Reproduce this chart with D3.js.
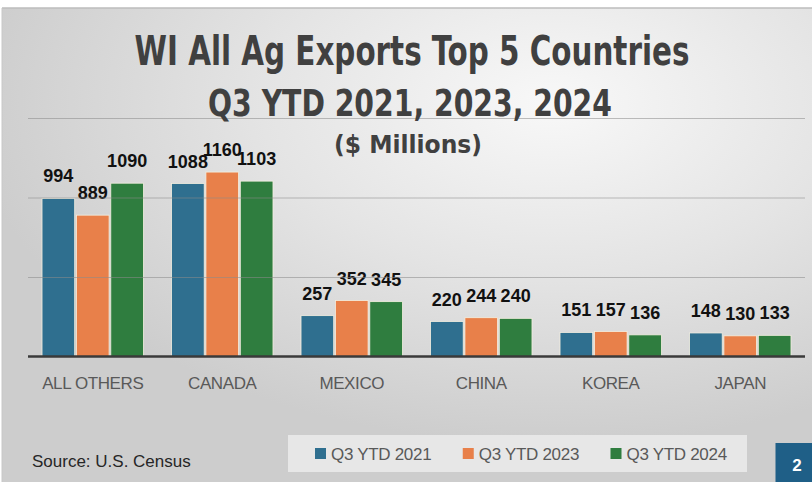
<!DOCTYPE html>
<html>
<head>
<meta charset="utf-8">
<script src="https://cdn.jsdelivr.net/npm/d3@7"></script>
<style>
  html, body { margin: 0; padding: 0; background: #ffffff; }
  svg { display: block; }
</style>
</head>
<body>
<svg id="chart" width="812" height="482"></svg>
<script>
// ---- Data ----
const categories = ["ALL OTHERS", "CANADA", "MEXICO", "CHINA", "KOREA", "JAPAN"];
const seriesNames = ["Q3 YTD 2021", "Q3 YTD 2023", "Q3 YTD 2024"];
const values2021 = [994, 1088, 257, 220, 151, 148];
const values2023 = [889, 1160, 352, 244, 157, 130];
const values2024 = [1090, 1103, 345, 240, 136, 133];
const yTicks = [500, 1000, 1500];
const titleLines = ["WI All Ag Exports  Top 5 Countries", "Q3 YTD 2021, 2023, 2024"];
const subtitle = "($ Millions)";
const sourceText = "Source: U.S. Census";
const pageNumber = "2";

const seriesValues = [values2021, values2023, values2024];
const colors = ["#2f6f8f", "#e8804a", "#2f7d3f"];

const svg = d3.select("#chart");
const W = 812, H = 482;

// ---- Background ----
const defs = svg.append("defs");
const grad = defs.append("radialGradient")
  .attr("id", "bg").attr("cx", "0.68").attr("cy", "0.2").attr("r", "0.72")
  .attr("fx", "0.68").attr("fy", "0.2");
grad.append("stop").attr("offset", "0%").attr("stop-color", "#f8f8f8");
grad.append("stop").attr("offset", "50%").attr("stop-color", "#e4e4e4");
grad.append("stop").attr("offset", "100%").attr("stop-color", "#cdcdcd");

svg.append("rect").attr("x", 0).attr("y", 0).attr("width", W).attr("height", H).attr("fill", "#ffffff");
svg.append("rect").attr("x", 2).attr("y", 8).attr("width", W - 2).attr("height", H - 8).attr("fill", "url(#bg)");
svg.append("line").attr("x1", 2).attr("x2", W).attr("y1", 8).attr("y2", 8)
  .attr("stroke", "#bdbdbd").attr("stroke-width", 1.5);
svg.append("line").attr("x1", 2).attr("x2", 2).attr("y1", 8).attr("y2", H)
  .attr("stroke", "#c8c8c8").attr("stroke-width", 1);

// ---- Scales ----
const plotLeft = 28, plotRight = 805;
const x0 = d3.scaleBand().domain(categories).range([plotLeft, plotRight])
  .paddingInner(0.19).paddingOuter(0.095);
const x1 = d3.scaleBand().domain(seriesNames).range([0, x0.bandwidth()]).padding(0.05);
const y = d3.scaleLinear().domain([0, 1500]).range([356.5, 118]);

// ---- Bars ----
const groups = svg.append("g").selectAll("g")
  .data(categories).join("g")
  .attr("transform", d => `translate(${x0(d)},0)`);

groups.selectAll("rect")
  .data((c, ci) => seriesNames.map((s, si) => ({ s, si, v: seriesValues[si][ci] })))
  .join("rect")
  .attr("x", d => x1(d.s))
  .attr("y", d => y(d.v))
  .attr("width", x1.bandwidth())
  .attr("height", d => y(0) - y(d.v))
  .attr("fill", d => colors[d.si])
  .attr("stroke", "#f4efe0")
  .attr("stroke-width", 0.8);

// ---- Gridlines (slightly visible over bars) ----
const yAxis = d3.axisLeft(y).tickValues(yTicks).tickSize(-(plotRight - plotLeft)).tickFormat("");
const gridG = svg.append("g").attr("transform", `translate(${plotLeft},0)`).call(yAxis);
gridG.select(".domain").remove();
gridG.selectAll(".tick line").attr("stroke", "#8a8a8a").attr("stroke-opacity", 0.55).attr("stroke-width", 1.2);

// ---- Baseline ----
svg.append("line").attr("x1", plotLeft).attr("x2", plotRight)
  .attr("y1", y(0)).attr("y2", y(0))
  .attr("stroke", "#3a3a3a").attr("stroke-width", 2.5);

// ---- Value labels ----
groups.selectAll("text.val")
  .data((c, ci) => seriesNames.map((s, si) => ({ s, si, v: seriesValues[si][ci] })))
  .join("text")
  .attr("class", "val")
  .attr("x", d => x1(d.s) + x1.bandwidth() / 2)
  .attr("y", d => y(d.v) - 16)
  .attr("text-anchor", "middle")
  .attr("font-family", "'Liberation Sans', Arial, sans-serif")
  .attr("font-weight", "bold")
  .attr("font-size", 18)
  .attr("fill", "#111111")
  .text(d => d.v);

// ---- Category axis labels ----
const xAxis = d3.axisBottom(x0).tickSize(0).tickPadding(0);
const xg = svg.append("g").attr("transform", `translate(0,${377})`).call(xAxis);
xg.select(".domain").remove();
xg.selectAll("text")
  .attr("font-family", "'Liberation Sans', Arial, sans-serif")
  .attr("font-size", 17)
  .attr("letter-spacing", -0.4)
  .attr("fill", "#595959")
  .attr("dy", 12);

// ---- Titles (condensed via horizontal scale to the reference width) ----
const titleFont = "'DejaVu Sans Condensed', 'Liberation Sans', sans-serif";
const titleSpecs = [
  { t: titleLines[0], cx: 412, base: 65, size: 40, len: 555 },
  { t: titleLines[1], cx: 410, base: 116, size: 38, len: 404 },
  { t: subtitle, cx: 408, base: 153, size: 24, len: 148 }
];
const titleG = svg.append("g");
titleSpecs.forEach(d => {
  const g = titleG.append("g");
  const txt = g.append("text")
    .attr("x", 0).attr("y", 0)
    .attr("text-anchor", "middle")
    .attr("font-family", titleFont)
    .attr("font-weight", "bold")
    .attr("font-size", d.size)
    .attr("fill", "#404040")
    .text(d.t);
  const natural = txt.node().getComputedTextLength() || d.len;
  const sx = d.len / natural;
  g.attr("transform", `translate(${d.cx},${d.base}) scale(${sx},1)`);
});

// ---- Legend ----
const legend = svg.append("g");
legend.append("rect").attr("x", 288).attr("y", 435).attr("width", 459).attr("height", 37)
  .attr("fill", "#ebebeb").attr("fill-opacity", 0.85);
const legendX = d3.scalePoint().domain(seriesNames).range([315, 610.5]);
const li = legend.selectAll("g.item").data(seriesNames).join("g").attr("class", "item")
  .attr("transform", d => `translate(${legendX(d)},0)`);
li.append("rect").attr("x", 0).attr("y", 448).attr("width", 11).attr("height", 11)
  .attr("fill", (d, i) => colors[i]);
li.append("text").attr("x", 16).attr("y", 460)
  .attr("font-family", "'Liberation Sans', Arial, sans-serif")
  .attr("font-size", 17)
  .attr("letter-spacing", -0.3)
  .attr("fill", "#595959")
  .text(d => d);

// ---- Source ----
svg.append("text").attr("x", 32).attr("y", 467)
  .attr("font-family", "'Liberation Sans', Arial, sans-serif")
  .attr("font-size", 17)
  .attr("fill", "#262626")
  .text(sourceText);

// ---- Page number ----
svg.append("rect").attr("x", 775.5).attr("y", 443).attr("width", W - 775.5).attr("height", H - 443)
  .attr("fill", "#1f5f87");
svg.append("text").attr("x", 797).attr("y", 471)
  .attr("text-anchor", "middle")
  .attr("font-family", "'Liberation Sans', Arial, sans-serif")
  .attr("font-weight", "bold")
  .attr("font-size", 17)
  .attr("fill", "#ffffff")
  .text(pageNumber);
</script>
</body>
</html>
